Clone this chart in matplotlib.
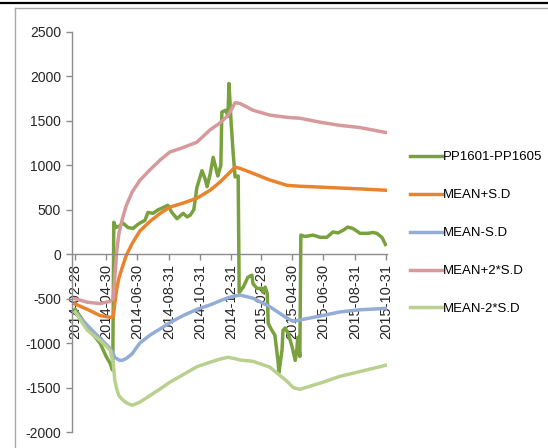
import matplotlib
matplotlib.use("Agg")
import matplotlib.pyplot as plt
import pandas as pd
from matplotlib.lines import Line2D
from matplotlib.ticker import FixedLocator, FixedFormatter
import matplotlib.dates as mdates

# ---- data --------------------------------------------------------------
BAND_DATES = [
    "2014-02-28", "2014-03-24", "2014-04-18", "2014-05-08", "2014-05-14",
    "2014-05-17", "2014-05-21", "2014-05-25", "2014-05-31", "2014-06-08",
    "2014-06-20", "2014-07-05", "2014-07-25", "2014-08-14", "2014-09-02",
    "2014-09-28", "2014-10-25", "2014-11-20", "2014-12-09", "2014-12-25",
    "2015-01-08", "2015-01-18", "2015-02-12", "2015-03-17", "2015-04-20",
    "2015-05-02", "2015-05-15", "2015-06-24", "2015-08-01", "2015-09-10",
    "2015-10-30",
]
MEAN_P1 = [-560, -620, -690, -710, -700, -550, -380, -270, -160, -20,
           120, 260, 370, 460, 530, 575, 630, 720, 810, 900,
           980, 965, 910, 835, 775, 770, 765, 755, 745, 735, 720]
MEAN_M1 = [-650, -800, -945, -1060, -1120, -1160, -1175, -1190, -1195, -1175,
           -1120, -1000, -910, -840, -770, -690, -620, -570, -525, -490,
           -470, -460, -495, -590, -720, -755, -740, -695, -650, -625, -610]
MEAN_P2 = [-500, -540, -555, -530, -500, -260, 50, 230, 380, 540,
           700, 830, 950, 1060, 1150, 1200, 1260, 1400, 1475, 1560,
           1705, 1695, 1620, 1565, 1540, 1535, 1530, 1485, 1450, 1425, 1370]
MEAN_M2 = [-650, -855, -970, -1080, -1230, -1420, -1520, -1590, -1630, -1670,
           -1700, -1665, -1590, -1515, -1440, -1355, -1265, -1215, -1180, -1160,
           -1175, -1190, -1205, -1270, -1430, -1500, -1520, -1450, -1375, -1320,
           -1250]

PP_DATES = [
    "2014-02-28", "2014-03-10", "2014-03-24", "2014-04-04", "2014-04-18",
    "2014-04-30", "2014-05-08", "2014-05-12", "2014-05-13", "2014-05-15",
    "2014-05-19", "2014-05-27", "2014-06-02", "2014-06-12", "2014-06-22",
    "2014-06-30", "2014-07-05", "2014-07-15", "2014-07-21", "2014-07-31",
    "2014-08-10", "2014-08-18", "2014-08-29", "2014-09-06", "2014-09-16",
    "2014-09-28", "2014-10-06", "2014-10-12", "2014-10-19", "2014-10-25",
    "2014-11-04", "2014-11-10", "2014-11-14", "2014-11-20", "2014-11-26",
    "2014-12-02", "2014-12-05", "2014-12-11", "2014-12-13", "2014-12-21",
    "2014-12-25", "2014-12-27", "2014-12-31", "2015-01-04", "2015-01-08",
    "2015-01-14", "2015-01-16", "2015-01-24", "2015-02-02", "2015-02-10",
    "2015-02-12", "2015-02-20", "2015-03-02", "2015-03-04", "2015-03-08",
    "2015-03-12", "2015-03-14", "2015-03-21", "2015-03-27", "2015-04-02",
    "2015-04-04", "2015-04-10", "2015-04-12", "2015-04-16", "2015-04-22",
    "2015-04-30", "2015-05-06", "2015-05-09", "2015-05-11", "2015-05-15",
    "2015-05-17", "2015-05-25", "2015-06-10", "2015-06-24", "2015-07-07",
    "2015-07-19", "2015-07-29", "2015-08-08", "2015-08-17", "2015-08-27",
    "2015-09-04", "2015-09-10", "2015-09-26", "2015-10-05", "2015-10-13",
    "2015-10-23", "2015-10-30",
]
PP_SPREAD = [-620, -700, -820, -900, -1000, -1150, -1230, -1300, -1280, 360,
             300, 320, 350, 300, 290, 330, 350, 380, 470, 460,
             500, 520, 550, 470, 400, 460, 420, 440, 500, 750,
             940, 850, 760, 900, 1090, 950, 880, 1000, 1600, 1620,
             1550, 1920, 1500, 1150, 870, 880, -430, -370, -260, -235,
             -330, -385, -385, -430, -370, -440, -780, -855, -910, -1195,
             -1330, -1080, -855, -830, -890, -1045, -1195, -1080, -935, -1150,
             215, 200, 215, 190, 190, 250, 240, 270, 305, 290,
             260, 235, 235, 245, 235, 190, 110]

TICK_DATES = ["2014-02-28", "2014-04-30", "2014-06-30", "2014-08-31",
              "2014-10-31", "2014-12-31", "2015-02-28", "2015-04-30",
              "2015-06-30", "2015-08-31", "2015-10-31"]
Y_TICKS = [2500, 2000, 1500, 1000, 500, 0, -500, -1000, -1500, -2000]

SERIES = [
    ("PP1601-PP1605", PP_DATES, PP_SPREAD, "#79A13D"),
    ("MEAN+S.D", BAND_DATES, MEAN_P1, "#E8842F"),
    ("MEAN-S.D", BAND_DATES, MEAN_M1, "#93ADD6"),
    ("MEAN+2*S.D", BAND_DATES, MEAN_P2, "#D69A9C"),
    ("MEAN-2*S.D", BAND_DATES, MEAN_M2, "#B9D08F"),
]

C_AXIS = "#8C8C8C"
C_TEXT = "#262626"

plt.rcParams["font.family"] = ["Liberation Sans", "DejaVu Sans"]

fig = plt.figure(figsize=(5.48, 4.48), dpi=100, facecolor="white")

# outer frame pieces (black rule on top, grey chart border)
fig.add_artist(Line2D([0, 1], [1 - 3 / 448, 1 - 3 / 448], color="black",
                      lw=1.6, transform=fig.transFigure))
fig.add_artist(Line2D([15 / 548, 1], [1 - 8 / 448, 1 - 8 / 448],
                      color="#A6A6A6", lw=1.0, transform=fig.transFigure))
fig.add_artist(Line2D([15 / 548, 15 / 548], [0, 1 - 8 / 448],
                      color="#A6A6A6", lw=1.0, transform=fig.transFigure))

ax = fig.add_axes([72 / 548, 1 - 432 / 448, 315 / 548, 400 / 448])
ax.set_axisbelow(True)  # lines run over the date labels, as in Excel

for name, dates, vals, col in SERIES:
    ax.plot(mdates.date2num(pd.to_datetime(dates)), vals, color=col, lw=2.5,
            label=name, solid_joinstyle="round")

ax.set_ylim(-2000, 2500)
ax.set_xlim(mdates.date2num(pd.Timestamp("2014-02-22")),
            mdates.date2num(pd.Timestamp("2015-11-02")))
ax.set_yticks(Y_TICKS)
ax.set_yticklabels([str(v) for v in Y_TICKS])

ax.xaxis.set_major_locator(FixedLocator(mdates.date2num(pd.to_datetime(TICK_DATES))))
ax.xaxis.set_major_formatter(FixedFormatter(TICK_DATES))

ax.spines["top"].set_visible(False)
ax.spines["right"].set_visible(False)
ax.spines["bottom"].set_position(("data", 0))
for sp in ("left", "bottom"):
    ax.spines[sp].set_color(C_AXIS)
    ax.spines[sp].set_linewidth(1.0)

ax.tick_params(axis="y", direction="out", length=4, width=1.0,
               color=C_AXIS, labelsize=10, labelcolor=C_TEXT, pad=4)
ax.tick_params(axis="x", direction="out", length=4, width=1.0,
               color=C_AXIS, labelsize=10.5, labelcolor=C_TEXT, pad=3,
               labelrotation=90)

fig.legend(loc="upper left", bbox_to_anchor=(410 / 548, 1 - 151 / 448),
           frameon=False, fontsize=9.5, handlelength=2.4,
           handletextpad=0.1, labelspacing=1.95, borderpad=0.0,
           borderaxespad=0.0)

fig.savefig("out.png", dpi=100, facecolor="white")
